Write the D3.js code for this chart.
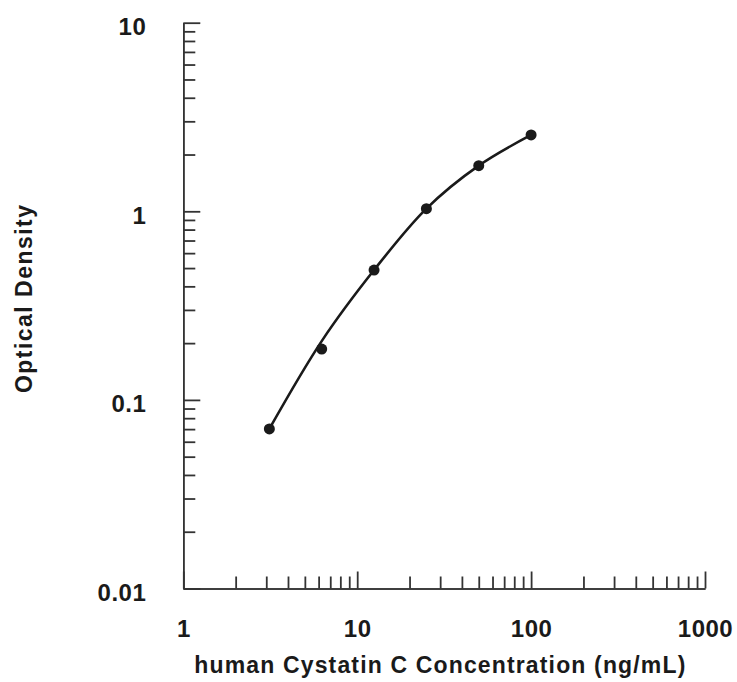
<!DOCTYPE html>
<html>
<head>
<meta charset="utf-8">
<script src="https://cdn.jsdelivr.net/npm/d3@7"></script>
<style>
  body { margin: 0; background: #fff; }
  text { font-family: "Liberation Sans", Arial, sans-serif; font-weight: bold; fill: #1a1a1a; }
</style>
</head>
<body>
<div id="viz"></div>
<script>
// data
const concentration = [3.125, 6.25, 12.5, 25, 50, 100];
const density = [0.0702, 0.186, 0.488, 1.033, 1.746, 2.54];
// fitted curve values at the same concentrations
const fitted = [0.0702, 0.205, 0.488, 1.033, 1.746, 2.54];
const xMajor = [1, 10, 100, 1000];
const yMajor = [0.01, 0.1, 1, 10];

const margin = {top: 22.7, right: 32, bottom: 93.5, left: 183.3},
  width = 737 - margin.left - margin.right,
  height = 682 - margin.top - margin.bottom;

const svg = d3.select("#viz").append("svg")
  .attr("width", 737).attr("height", 682)
  .append("g")
  .attr("transform", `translate(${margin.left}, ${margin.top})`);

const x = d3.scaleLog().domain([1, 1000]).range([0, width]);
const y = d3.scaleLog().domain([0.01, 10]).range([height, 0]);

const xMinor = x.ticks().filter(d => !xMajor.includes(d));
const yMinor = y.ticks().filter(d => !yMajor.some(m => Math.abs(m - d) < 1e-9));

// minor ticks
svg.append("g")
  .attr("class", "minor")
  .attr("transform", `translate(0, ${height})`)
  .call(d3.axisBottom(x).tickValues(xMinor).tickSize(-12).tickSizeOuter(0).tickFormat(""));
svg.append("g")
  .attr("class", "minor")
  .call(d3.axisLeft(y).tickValues(yMinor).tickSize(-12).tickSizeOuter(0).tickFormat(""));

// major ticks + labels
svg.append("g")
  .attr("class", "major")
  .attr("transform", `translate(0, ${height})`)
  .call(d3.axisBottom(x).tickValues(xMajor).tickSize(-17).tickSizeOuter(0).tickPadding(31).tickFormat(d3.format("")))
  .selectAll("text")
  .attr("dy", "0.72em")
  .style("font-size", "24px")
  .style("letter-spacing", "0.5px");

svg.append("g")
  .attr("class", "major")
  .call(d3.axisLeft(y).tickValues(yMajor).tickSize(-17).tickSizeOuter(0).tickPadding(37)
    .tickFormat(d => d >= 1 ? d3.format("")(d) : d3.format(".2~f")(d)))
  .selectAll("text")
  .attr("dy", "0.5em")
  .style("font-size", "24px")
  .style("letter-spacing", "0.5px");

svg.selectAll(".domain").attr("stroke", "#333").attr("stroke-width", 1.6);
svg.selectAll(".tick line").attr("stroke", "#333").attr("stroke-width", 1.8);

// fitted line
const pts = concentration.map((c, i) => [x(c), y(fitted[i])]);
svg.append("path")
  .attr("d", d3.line().curve(d3.curveCatmullRom.alpha(0.5))(pts))
  .attr("fill", "none")
  .attr("stroke", "#1a1a1a")
  .attr("stroke-width", 2.6);

// points
svg.selectAll(".dot")
  .data(concentration)
  .join("circle")
  .attr("class", "dot")
  .attr("cx", d => x(d))
  .attr("cy", (d, i) => y(density[i]))
  .attr("r", 5.5)
  .attr("fill", "#1a1a1a");

// axis titles
svg.append("text")
  .text("human Cystatin C Concentration (ng/mL)")
  .attr("x", 194.3 - margin.left)
  .attr("y", 673 - margin.top)
  .attr("textLength", 491)
  .attr("lengthAdjust", "spacing")
  .style("font-size", "23px");

svg.append("text")
  .text("Optical Density")
  .attr("transform", `translate(${32 - margin.left}, ${393 - margin.top}) rotate(-90)`)
  .attr("textLength", 188)
  .attr("lengthAdjust", "spacing")
  .style("font-size", "23px");
</script>
</body>
</html>
